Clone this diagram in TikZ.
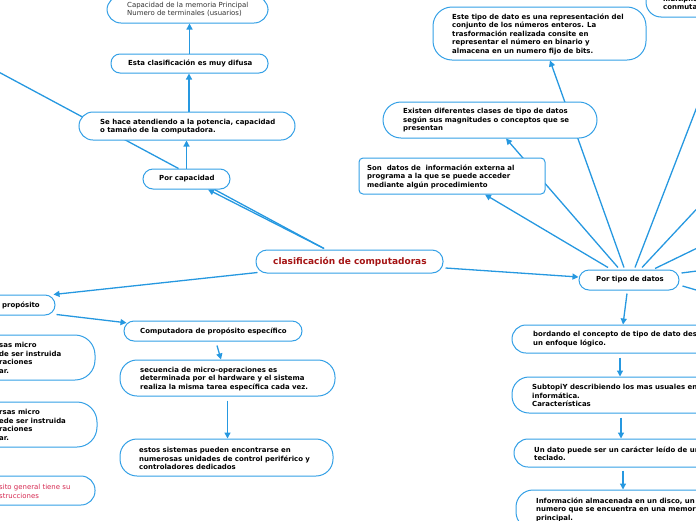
\documentclass[tikz,border=0pt]{standalone}
\usepackage{fontspec}
\setmainfont{DejaVu Sans}
\usetikzlibrary{arrows.meta,backgrounds}
\definecolor{linec}{RGB}{38,152,224}
\definecolor{boxc}{RGB}{52,160,230}
\definecolor{rootred}{RGB}{165,20,20}
\definecolor{pinkred}{RGB}{214,40,80}
\definecolor{graytxt}{RGB}{50,50,50}
\begin{document}
\begin{tikzpicture}[x=1pt,y=-1pt,
  box/.style={draw=boxc, line width=1pt, fill=white, inner sep=0pt},
  txt/.style={inner sep=0pt, anchor=west, align=left, text=black,
    font=\fontsize{6.95}{8.5}\selectfont\bfseries},
  plaintxt/.style={inner sep=0pt, anchor=west, align=left, text=graytxt,
    font=\fontsize{6.95}{8.5}\selectfont},
  roottxt/.style={inner sep=0pt, anchor=west, text=rootred,
    font=\fontsize{9}{11}\selectfont\bfseries},
  conn/.style={draw=linec, line width=1.3pt},
  arr/.style={conn, -{Triangle[length=6pt,width=6pt]}}
]
\useasboundingbox (0,0) rectangle (696,520);
\clip (0,0) rectangle (696,520);

% boxes
\node[box, rounded corners=14pt, minimum width=161pt, minimum height=27pt] (capmem) at (187.5,9.5) {};
\node[box, rounded corners=9pt, minimum width=157pt, minimum height=19pt] (difusa) at (189.5,63.5) {};
\node[box, rounded corners=14pt, minimum width=216pt, minimum height=28pt] (sehace) at (187,126) {};
\node[box, rounded corners=10pt, minimum width=87pt, minimum height=20pt] (porcap) at (186.5,179) {};
\node[box, rounded corners=11pt, minimum width=187pt, minimum height=23pt] (root) at (349.5,261.5) {};
\node[box, rounded corners=10pt, minimum width=100pt, minimum height=20pt] (portipo) at (629,280) {};
\node[box, rounded corners=10pt, minimum width=155pt, minimum height=20pt] (propgen) at (-22.5,305) {};
\node[box, rounded corners=20pt, minimum width=245pt, minimum height=45pt] (leftA) at (-27.5,357.5) {};
\node[box, rounded corners=20pt, minimum width=247pt, minimum height=45pt] (leftB) at (-26.5,424.5) {};
\node[box, rounded corners=14pt, minimum width=245pt, minimum height=29pt] (leftC) at (-27.5,490.5) {};
\node[box, rounded corners=10pt, minimum width=178pt, minimum height=20pt] (especif) at (213,331) {};
\node[box, rounded corners=17pt, minimum width=215pt, minimum height=36pt] (secuencia) at (227.5,378) {};
\node[box, rounded corners=17pt, minimum width=213pt, minimum height=37pt] (estos) at (226.5,457.5) {};
\node[box, rounded corners=19pt, minimum width=213pt, minimum height=53pt] (estetipo) at (539.5,33.5) {};
\node[box, rounded corners=15pt, minimum width=134pt, minimum height=57pt] (topright) at (713,-11.5) {};
\node[box, rounded corners=18pt, minimum width=214pt, minimum height=36pt] (existen) at (490,120) {};
\node[box, rounded corners=4pt, minimum width=186pt, minimum height=36pt] (sondatos) at (452,176) {};
\node[box, rounded corners=14pt, minimum width=248pt, minimum height=28pt] (bordando) at (636,339) {};
\node[box, rounded corners=17pt, minimum width=248pt, minimum height=36pt] (subtopi) at (636,395) {};
\node[box, rounded corners=14pt, minimum width=246pt, minimum height=28pt] (undato) at (637,453) {};
\node[box, rounded corners=17pt, minimum width=244pt, minimum height=39pt] (informacion) at (638,509.5) {};

% texts
\node[plaintxt] (tcapmem) at (127,9.5) {Capacidad de la memoria Principal\\Numero de terminales (usuarios)};
\node[txt] (tdifusa) at (128,63.5) {Esta clasificación es muy difusa};
\node[txt] (tsehace) at (100,126.5) {Se hace atendiendo a la potencia, capacidad\\o tamaño de la computadora.};
\node[txt] (tporcap) at (159,179) {Por capacidad};
\node[roottxt] (troot) at (273,261.5) {clasificación de computadoras};
\node[txt] (tportipo) at (596,280) {Por tipo de datos};
\node[txt] (tpropgen) at (2,305) {propósito};
\node[txt] (tleftA) at (-1,358) {sas micro\\de ser instruida\\raciones\\ar.};
\node[txt] (tleftB) at (-1,425) {rsas micro\\ede ser instruida\\raciones\\ar.};
\node[plaintxt, text=pinkred] (tleftC) at (-1,491.5) {sito general tiene su\\strucciones};
\node[txt] (tespecif) at (140,331) {Computadora de propósito específico};
\node[txt] (tsecuencia) at (140,379) {secuencia de micro-operaciones es\\determinada por el hardware y el sistema\\realiza la misma tarea específica cada vez.};
\node[txt] (testos) at (139,458.5) {estos sistemas pueden encontrarse en\\numerosas unidades de control periférico y\\controladores dedicados};
\node[txt] (testetipo) at (452,34) {Este tipo de dato es una representación del\\conjunto de los números enteros. La\\trasformación realizada consite en\\representar el número en binario y\\almacena en un numero fijo de bits.};
\node[txt] (ttopright) at (663,3) {multiplica\\conmutati};
\node[txt] (texisten) at (403,120.5) {Existen diferentes clases de tipo de datos\\según sus magnitudes o conceptos que se\\presentan};
\node[txt] (tsondatos) at (367,176.5) {Son~ datos de~ información externa al\\programa a la que se puede acceder\\mediante algún procedimiento};
\node[txt] (tbordando) at (533,339) {bordando el concepto de tipo de dato des\\un enfoque lógico.};
\node[txt] (tsubtopi) at (532,395.5) {SubtopiY describiendo los mas usuales en\\informática.\\Características};
\node[txt] (tundato) at (534,454) {Un dato puede ser un carácter leído de un\\teclado.};
\node[txt] (tinformacion) at (536,509.5) {Información almacenada en un disco, un\\numero que se encuentra en una memoria\\principal.};

% off-picture ends
\coordinate (offL) at (-20,62);
\coordinate (offE) at (715,60);
\coordinate (offF) at (720,184);
\coordinate (offG) at (720,237);
\coordinate (offH) at (720,268);
\coordinate (offI) at (720,297);

\begin{pgfonlayer}{background}
\draw[arr] ([xshift=-25.5pt,yshift=1pt]root.north) -- ([xshift=21.5pt]porcap.south);
\draw[conn] ([xshift=-25.5pt,yshift=1pt]root.north) -- ([xshift=28pt]porcap.south);
\draw[arr] (porcap.north) -- (porcap.north |- sehace.south);
\draw[arr] ([xshift=2pt]sehace.north) -- ([xshift=2pt]sehace.north |- difusa.south);
\draw[arr] (difusa.north) -- (difusa.north |- capmem.south);
\draw[conn] ([xshift=-8pt]porcap.north) -- (offL);
\draw[arr] ([xshift=2pt,yshift=1pt]root.south west) -- ([xshift=-2pt]propgen.north east);
\draw[arr] ([xshift=1pt,yshift=1pt]propgen.south east) -- ([xshift=3pt,yshift=-2.3pt]especif.north west);
\draw[arr] ([xshift=4pt,yshift=-4pt]especif.south) -- ([xshift=-6.5pt]secuencia.north);
\draw[arr] ([yshift=-4pt]secuencia.south) -- (secuencia.south |- estos.north);
\draw[arr] ([xshift=2pt,yshift=-6.5pt]root.east) -- ([yshift=3pt]portipo.west);
\draw[arr] ([xshift=-2pt,yshift=-3pt]portipo.south) -- ([xshift=-6pt]portipo.south |- bordando.north);
\draw[arr] ([xshift=-16pt,yshift=-4pt]bordando.south) -- ([xshift=-16pt]subtopi.north);
\draw[arr] ([xshift=-15pt,yshift=-4pt]subtopi.south) -- ([xshift=-16pt]undato.north);
\draw[arr] ([xshift=-14pt,yshift=-3pt]undato.south) -- ([xshift=-15pt]informacion.north);
\draw[arr] ([xshift=-21pt,yshift=2pt]portipo.north) -- ([xshift=33pt]sondatos.south);
\draw[arr] ([xshift=-11pt,yshift=2pt]portipo.north) -- ([xshift=16pt]existen.south);
\draw[arr] ([xshift=-5pt,yshift=2pt]portipo.north) -- ([xshift=10.5pt]estetipo.south);
\draw[conn] ([xshift=6pt,yshift=2pt]portipo.north) -- (offE);
\draw[conn] ([xshift=13pt,yshift=2pt]portipo.north) -- (offF);
\draw[conn] ([xshift=26pt,yshift=1pt]portipo.north) -- (offG);
\draw[conn] ([xshift=2pt,yshift=7pt]portipo.east) -- (offH);
\draw[conn] ([xshift=3pt,yshift=-6pt]portipo.east) -- (offI);
\end{pgfonlayer}
\end{tikzpicture}
\end{document}
